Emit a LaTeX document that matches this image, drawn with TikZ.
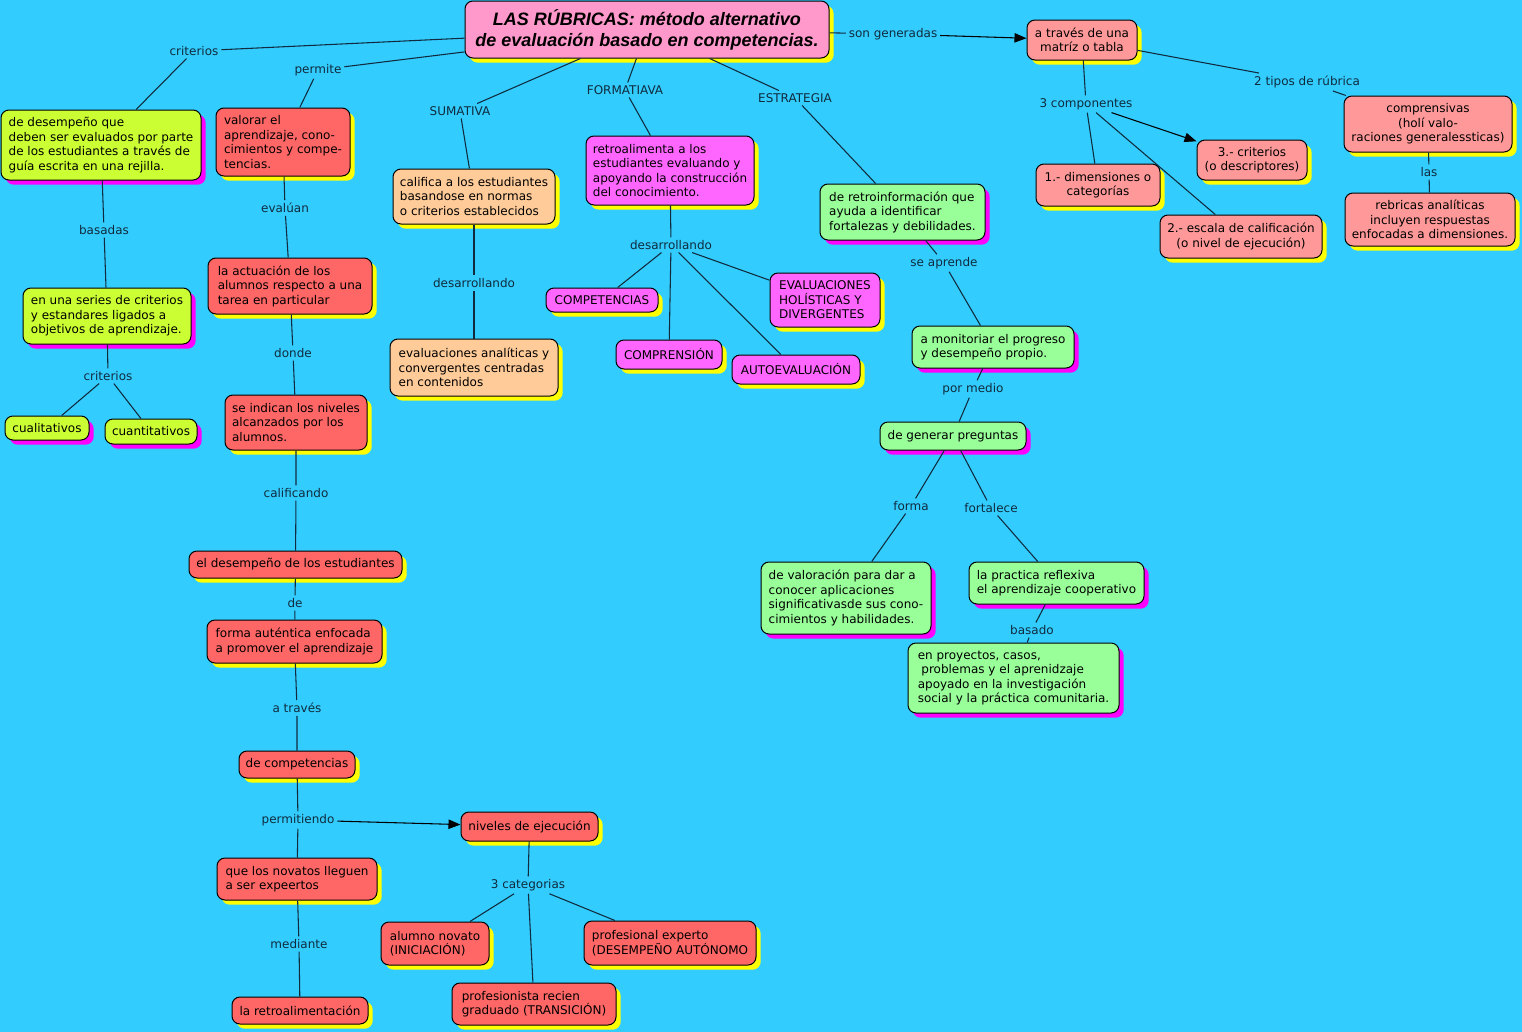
\documentclass[tikz,border=0pt]{standalone}
\usepackage{fontspec}
\setmainfont{DejaVu Sans}
\newfontfamily\titlefont{Liberation Sans}
\usetikzlibrary{arrows.meta,shadows}

\definecolor{fondo}{HTML}{33CCFF}
\definecolor{labc}{HTML}{0F2B3D}
\definecolor{rosa}{HTML}{FF99CC}
\definecolor{lima}{HTML}{CCFF33}
\definecolor{rojo}{HTML}{FF6666}
\definecolor{durazno}{HTML}{FFCC99}
\definecolor{magenta}{HTML}{FF66FF}
\definecolor{verde}{HTML}{99FF99}
\definecolor{salmon}{HTML}{FF9999}
\definecolor{sombray}{HTML}{FFFF00}
\definecolor{sombram}{HTML}{FF00FF}

\tikzset{
  wh/.style 2 args = {minimum width=#1*.75pt, minimum height=#2*.75pt},
  cbox/.style = {draw=black, line width=.75pt, rounded corners=6pt, inner sep=0pt,
                 text=black, align=left, font=\fontsize{9}{10.9}\selectfont},
  ysh/.style = {drop shadow={shadow xshift=3.5pt, shadow yshift=-3.5pt, fill=sombray, opacity=1}},
  msh/.style = {drop shadow={shadow xshift=3.5pt, shadow yshift=-3.5pt, fill=sombram, opacity=1}},
  ctitle/.style = {cbox, fill=rosa, ysh, align=center,
                   font=\fontsize{13.5}{15.75}\selectfont\titlefont\bfseries\itshape},
  clime/.style = {cbox, fill=lima, msh},
  cred/.style = {cbox, fill=rojo, ysh},
  cpeach/.style = {cbox, fill=durazno, ysh},
  cmag/.style = {cbox, fill=magenta, ysh},
  cgreen/.style = {cbox, fill=verde, msh},
  csalmon/.style = {cbox, fill=salmon, ysh, align=center},
  lbl/.style = {text=labc, inner sep=2pt, font=\fontsize{9}{10.9}\selectfont},
  conn/.style = {draw=labc, line width=.8pt},
  flecha/.style = {-{Triangle[length=9pt,width=7pt]}, draw=black}
}

\begin{document}
\begin{tikzpicture}[x=.75pt, y=-.75pt]
\fill[fondo] (0,0) rectangle (1522,1032);
\useasboundingbox (0,0) rectangle (1522,1032);

\node[ctitle, wh={364}{57}] (rubricas) at (647,29.5) {LAS RÚBRICAS: método alternativo\\de evaluación basado en competencias.};

\node[clime, wh={200}{70}] (desempeno) at (101,145) {de desempeño que\\deben ser evaluados por parte\\de los estudiantes a través de\\guía escrita en una rejilla.};
\node[cred, wh={134}{68}] (valorar) at (283,142) {valorar el\\aprendizaje, cono-\\cimientos y compe-\\tencias.};
\node[cpeach, wh={162}{55}] (califica) at (474,196.5) {califica a los estudiantes\\basandose en normas\\o criterios establecidos};
\node[cmag, wh={168}{69}] (retroalimenta) at (670,170.5) {retroalimenta a los\\estudiantes evaluando y\\apoyando la construcción\\del conocimiento.};
\node[cgreen, wh={165}{56}] (retroinfo) at (902.5,212) {de retroinformación que\\ayuda a identificar\\fortalezas y debilidades.};
\node[csalmon, wh={110}{40}] (matriz) at (1082,40) {a través de una\\matríz o tabla};
\node[csalmon, wh={168}{56}] (comprensivas) at (1428,124) {comprensivas\\(holí valo-\\raciones generalessticas)};
\node[csalmon, wh={170}{53}] (analiticas) at (1430,219.5) {rebricas analíticas\\incluyen respuestas\\enfocadas a dimensiones.};
\node[csalmon, wh={124}{42}] (dimensiones) at (1098,185) {1.- dimensiones o\\categorías};
\node[csalmon, wh={110}{40}] (criterios3) at (1252,160) {3.- criterios\\(o descriptores)};
\node[csalmon, wh={162}{43}] (escala) at (1241,236.5) {2.- escala de calificación\\(o nivel de ejecución)};

\node[clime, wh={168}{56}] (series) at (107,316) {en una series de criterios\\y estandares ligados a\\objetivos de aprendizaje.};
\node[clime, wh={84}{24}] (cualitativos) at (47,428) {cualitativos};
\node[clime, wh={92}{25}] (cuantitativos) at (151,431.5) {cuantitativos};

\node[cred, wh={164}{56}] (actuacion) at (290,286) {la actuación de los\\alumnos respecto a una\\tarea en particular};
\node[cred, wh={142}{55}] (indican) at (296,422.5) {se indican los niveles\\alcanzados por los\\alumnos.};
\node[cred, wh={213}{27}] (desempest) at (295.5,564.5) {el desempeño de los estudiantes};
\node[cred, wh={175}{43}] (autentica) at (294.5,641.5) {forma auténtica enfocada\\a promover el aprendizaje};
\node[cred, wh={116}{27}] (decomp) at (297,764.5) {de competencias};
\node[cred, wh={160}{42}] (novatos) at (297,879) {que los novatos lleguen\\a ser expeertos};
\node[cred, wh={136}{27}] (retroalim) at (300,1010.5) {la retroalimentación};
\node[cred, wh={137}{29}] (niveles) at (529.5,826.5) {niveles de ejecución};
\node[cred, wh={108}{43}] (novato) at (435,943.5) {alumno novato\\(INICIACIÓN)};
\node[cred, wh={164}{42}] (recien) at (534,1004) {profesionista recien\\graduado (TRANSICIÓN)};
\node[cred, wh={172}{44}] (experto) at (670,943) {profesional experto\\(DESEMPEÑO AUTÓNOMO};

\node[cpeach, wh={168}{57}] (convergentes) at (474,367.5) {evaluaciones analíticas y\\convergentes centradas\\en contenidos};
\node[cmag, wh={112}{24}] (competencias) at (602,300) {COMPETENCIAS};
\node[cmag, wh={106}{29}] (comprension) at (669,354.5) {COMPRENSIÓN};
\node[cmag, wh={128}{29}] (autoeval) at (796,369.5) {AUTOEVALUACIÓN};
\node[cmag, wh={110}{54}] (holisticas) at (825,300) {EVALUACIONES\\HOLÍSTICAS Y\\DIVERGENTES};

\node[cgreen, wh={162}{42}] (monitoriar) at (993,347) {a monitoriar el progreso\\y desempeño propio.};
\node[cgreen, wh={146}{28}] (preguntas) at (953,436) {de generar preguntas};
\node[cgreen, wh={170}{72}] (valoracion) at (846,598) {de valoración para dar a\\conocer aplicaciones\\significativasde sus cono-\\cimientos y habilidades.};
\node[cgreen, wh={175}{42}] (practica) at (1056.5,583) {la practica reflexiva\\el aprendizaje cooperativo};
\node[cgreen, wh={211}{70}] (proyectos) at (1013.5,678) {en proyectos, casos,\\\hspace*{.3em}problemas y el aprenidzaje\\apoyado en la investigación\\social y la práctica comunitaria.};

% frases de enlace
\node[lbl] (lCriterios) at (194,51) {criterios};
\node[lbl] (lPermite) at (318,70) {permite};
\node[lbl] (lSumativa) at (460,111) {SUMATIVA};
\node[lbl] (lFormativa) at (625,90) {FORMATIAVA};
\node[lbl] (lEstrategia) at (795,98) {ESTRATEGIA};
\node[lbl] (lGeneradas) at (893,34) {son generadas};
\node[lbl] (lComponentes) at (1086,104) {3 componentes};
\node[lbl] (lTipos) at (1307,82) {2 tipos de rúbrica};
\node[lbl] (lLas) at (1429,172) {las};
\node[lbl] (lBasadas) at (104,230) {basadas};
\node[lbl] (lCriterios2) at (108,376) {criterios};
\node[lbl] (lEvaluan) at (285,208) {evalúan};
\node[lbl] (lDonde) at (293,353) {donde};
\node[lbl] (lCalificando) at (296,493) {calificando};
\node[lbl] (lDe) at (295,603) {de};
\node[lbl] (lTraves) at (297,708) {a través};
\node[lbl] (lPermitiendo) at (298,820) {permitiendo};
\node[lbl] (lMediante) at (299,944) {mediante};
\node[lbl] (lCategorias) at (528,885) {3 categorias};
\node[lbl] (lDesarr1) at (474,283) {desarrollando};
\node[lbl] (lDesarr2) at (671,245) {desarrollando};
\node[lbl] (lAprende) at (944,263) {se aprende};
\node[lbl] (lMedio) at (973,389) {por medio};
\node[lbl] (lForma) at (911,506) {forma};
\node[lbl] (lFortalece) at (991,508) {fortalece};
\node[lbl] (lBasado) at (1032,630) {basado};

% conexiones
\draw[conn] (rubricas) -- (lCriterios) -- (desempeno);
\draw[conn] (rubricas) -- (lPermite) -- (valorar);
\draw[conn] (rubricas) -- (lSumativa) -- (califica);
\draw[conn] (rubricas) -- (lFormativa) -- (retroalimenta);
\draw[conn] (rubricas) -- (lEstrategia) -- (retroinfo);
\draw[conn] (rubricas) -- (lGeneradas);
\draw[conn, flecha] (lGeneradas) -- (matriz);
\draw[conn] (matriz) -- (lComponentes);
\draw[conn] (lComponentes) -- (dimensiones);
\draw[conn] (lComponentes) -- (escala);
\draw[conn, flecha] (lComponentes) -- (criterios3);
\draw[conn] (matriz) -- (lTipos) -- (comprensivas);
\draw[conn] (comprensivas) -- (lLas) -- (analiticas);

\draw[conn] (desempeno) -- (lBasadas) -- (series);
\draw[conn] (series) -- (lCriterios2);
\draw[conn] (lCriterios2) -- (cualitativos);
\draw[conn] (lCriterios2) -- (cuantitativos);

\draw[conn] (valorar) -- (lEvaluan) -- (actuacion);
\draw[conn] (actuacion) -- (lDonde) -- (indican);
\draw[conn] (indican) -- (lCalificando) -- (desempest);
\draw[conn] (desempest) -- (lDe) -- (autentica);
\draw[conn] (autentica) -- (lTraves) -- (decomp);
\draw[conn] (decomp) -- (lPermitiendo) -- (novatos);
\draw[conn, flecha] (lPermitiendo) -- (niveles);
\draw[conn] (novatos) -- (lMediante) -- (retroalim);
\draw[conn] (niveles) -- (lCategorias);
\draw[conn] (lCategorias) -- (novato);
\draw[conn] (lCategorias) -- (recien);
\draw[conn] (lCategorias) -- (experto);

\draw[conn] (califica) -- (lDesarr1) -- (convergentes);
\draw[conn] (retroalimenta) -- (lDesarr2);
\draw[conn] (lDesarr2) -- (competencias);
\draw[conn] (lDesarr2) -- (comprension);
\draw[conn] (lDesarr2) -- (autoeval);
\draw[conn] (lDesarr2) -- (holisticas);

\draw[conn] (retroinfo) -- (lAprende) -- (monitoriar);
\draw[conn] (monitoriar) -- (lMedio) -- (preguntas);
\draw[conn] (preguntas) -- (lForma) -- (valoracion);
\draw[conn] (preguntas) -- (lFortalece) -- (practica);
\draw[conn] (practica) -- (lBasado) -- (proyectos);
\end{tikzpicture}
\end{document}
